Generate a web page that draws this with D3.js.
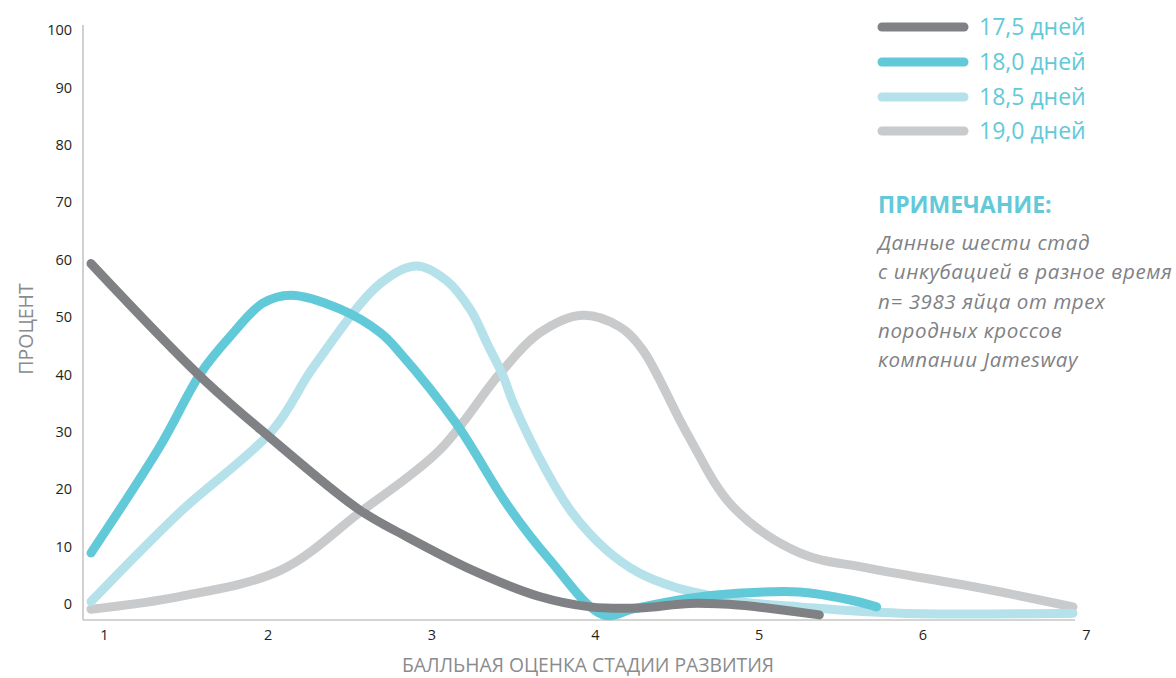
<!DOCTYPE html>
<html>
<head>
<meta charset="utf-8">
<script src="https://cdn.jsdelivr.net/npm/d3@7/dist/d3.min.js"></script>
<style>
  html, body { margin: 0; padding: 0; background: #fff; }
  svg { display: block; }
</style>
</head>
<body>
<svg id="chart" width="1176" height="678"></svg>
<script>
// ---- data ----
const seriesNames = ["17,5 дней", "18,0 дней", "18,5 дней", "19,0 дней"];
const seriesColors = ["#808184", "#62c9d9", "#b5e1ea", "#c9cacc"];

const days175 = [
  [1.0, 59.3], [1.67, 39.6], [2.09, 29.1], [2.64, 16.4], [2.93, 11.7],
  [3.33, 5.9], [3.74, 1.3], [4.05, -0.5], [4.35, -0.7], [4.66, 0.1], [4.97, -0.2],
  [5.13, -0.7], [5.45, -1.9]
];
const days180 = [
  [1.0, 8.9], [1.42, 27.4], [1.67, 40.2], [1.85, 46.6], [2.05, 52.4], [2.22, 53.8],
  [2.52, 51.4], [2.77, 47.2], [2.89, 43.7], [3.23, 31.5], [3.55, 17.0],
  [3.8, 7.8], [4.13, -1.9], [4.32, -0.8], [4.66, 1.0], [4.97, 1.9],
  [5.33, 2.1], [5.64, 0.7], [5.8, -0.5]
];
const days185 = [
  [1.0, 0.4], [1.54, 15.9], [2.11, 30.3], [2.36, 41.3], [2.77, 55.9],
  [2.99, 58.9], [3.17, 56.4], [3.32, 51.2], [3.42, 45.4], [3.52, 39.6], [3.58, 35.0],
  [3.78, 23.3], [3.94, 15.9], [4.15, 9.4], [4.35, 5.4], [4.56, 3.0], [4.76, 1.6],
  [4.97, 0.4], [5.33, -0.5], [5.94, -1.6], [7.0, -1.6]
];
const days190 = [
  [1.0, -0.9], [1.54, 1.3], [2.16, 5.9], [2.64, 15.9], [3.13, 26.8],
  [3.5, 40.2], [3.74, 47.2], [4.0, 50.3], [4.23, 48.3], [4.37, 44.3], [4.64, 29.8],
  [4.92, 17.0], [5.33, 8.9], [5.74, 6.3], [6.43, 2.8], [7.0, -0.5]
];
const seriesValues = [days175, days180, days185, days190];

const xTicks = [1, 2, 3, 4, 5, 6, 7];
const yTicks = [0, 10, 20, 30, 40, 50, 60, 70, 80, 90, 100];

const yAxisTitle = "ПРОЦЕНТ";
const xAxisTitle = "БАЛЛЬНАЯ ОЦЕНКА СТАДИИ РАЗВИТИЯ";
const noteTitle = "ПРИМЕЧАНИЕ:";
const noteLines = [
  "Данные шести стад",
  "с инкубацией в разное время",
  "n= 3983 яйца от трех",
  "породных кроссов",
  "компании Jamesway"
];

// ---- drawing ----
const svg = d3.select("#chart");
const font = "'Open Sans', 'Noto Sans', sans-serif";

const x = d3.scaleLinear().domain([1, 7]).range([91, 1073]);
const y = d3.scaleLinear().domain([0, 100]).range([604, 30]);

// axis lines
svg.append("line").attr("x1", 83).attr("x2", 83).attr("y1", 25).attr("y2", 620)
  .attr("stroke", "#c6c6c6").attr("stroke-width", 1.6);
svg.append("line").attr("x1", 83).attr("x2", 1075).attr("y1", 620).attr("y2", 620)
  .attr("stroke", "#c6c6c6").attr("stroke-width", 1.6);

// y axis ticks
const yAxis = d3.axisLeft(y).tickValues(yTicks).tickSize(0).tickPadding(0);
const gy = svg.append("g").attr("transform", "translate(72,0)").call(yAxis);
gy.select(".domain").remove();
gy.selectAll("text").attr("font-family", font).attr("font-size", 14.5)
  .attr("fill", "#231f20").attr("dy", "0.32em");

// x axis ticks
const xAxis = d3.axisBottom(x).tickValues(xTicks).tickFormat(d3.format("d")).tickSize(0).tickPadding(0);
const gx = svg.append("g").attr("transform", "translate(13,630)").call(xAxis);
gx.select(".domain").remove();
gx.selectAll("text").attr("font-family", font).attr("font-size", 14.5)
  .attr("fill", "#231f20").attr("dy", "0.71em");

// axis titles
svg.append("text").attr("transform", "translate(33,329) rotate(-90)")
  .attr("text-anchor", "middle").attr("font-family", font).attr("font-size", 19.5)
  .attr("fill", "#8a8b8d").text(yAxisTitle);
svg.append("text").attr("x", 588).attr("y", 672)
  .attr("text-anchor", "middle").attr("font-family", font).attr("font-size", 19.3)
  .attr("fill", "#8a8b8d").text(xAxisTitle);

// lines
const line = d3.line().x(d => x(d[0])).y(d => y(d[1])).curve(d3.curveCatmullRom.alpha(0.5));
const drawOrder = [3, 2, 1, 0];
drawOrder.forEach(i => {
  svg.append("path").datum(seriesValues[i])
    .attr("d", line)
    .attr("fill", "none")
    .attr("stroke", seriesColors[i])
    .attr("stroke-width", 9)
    .attr("stroke-linecap", "round")
    .attr("stroke-linejoin", "round");
});

// legend
const legendY = [27, 62, 97, 131];
seriesNames.forEach((name, i) => {
  svg.append("line").attr("x1", 882).attr("x2", 964)
    .attr("y1", legendY[i]).attr("y2", legendY[i])
    .attr("stroke", seriesColors[i]).attr("stroke-width", 9).attr("stroke-linecap", "round");
  svg.append("text").attr("x", 979).attr("y", legendY[i]).attr("dy", "0.35em")
    .attr("font-family", font).attr("font-size", 23).attr("fill", "#62c9d9").text(name);
});

// note
svg.append("text").attr("x", 878).attr("y", 213)
  .attr("font-family", font).attr("font-size", 23).attr("font-weight", "bold")
  .attr("fill", "#62c9d9").text(noteTitle);
noteLines.forEach((t, i) => {
  svg.append("text").attr("x", 878).attr("y", 250 + i * 29.3)
    .attr("font-family", font).attr("font-size", 20.5).attr("font-style", "italic")
    .attr("letter-spacing", 0.6)
    .attr("fill", "#808184").text(t);
});
</script>
</body>
</html>
